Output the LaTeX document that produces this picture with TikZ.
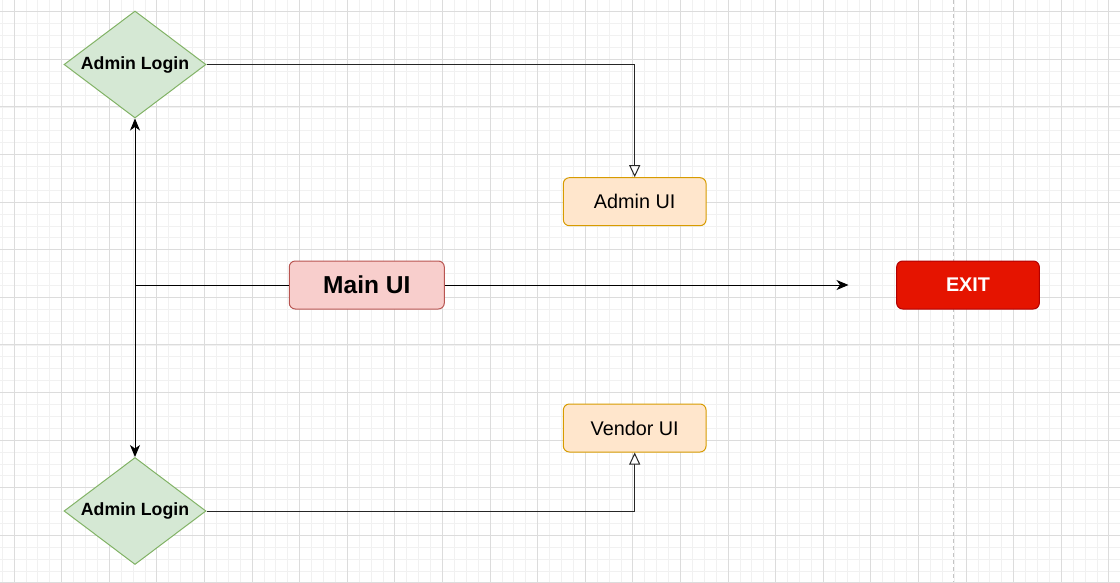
\documentclass[tikz,border=0pt]{standalone}
\usepackage{fontspec}
\setmainfont{Liberation Sans}
\usetikzlibrary{shapes.geometric,arrows.meta}
\definecolor{gridminor}{HTML}{F1F1F1}
\definecolor{gridmajor}{HTML}{DCDCDC}
\definecolor{dashgray}{HTML}{C4C4C4}
\definecolor{greenfill}{HTML}{D5E8D4}
\definecolor{greenline}{HTML}{82B366}
\definecolor{orangefill}{HTML}{FFE6CC}
\definecolor{orangeline}{HTML}{D79B00}
\definecolor{redfill}{HTML}{F8CECC}
\definecolor{redline}{HTML}{B85450}
\definecolor{exitfill}{HTML}{E51400}
\definecolor{exitline}{HTML}{B20000}
\tikzset{
  decision/.style={diamond, aspect=1.33, draw=greenline, fill=greenfill, line width=1pt,
    minimum width=142pt, minimum height=107pt, inner sep=0pt,
    font=\fontsize{17.7}{20}\selectfont\bfseries},
  uibox/.style={rectangle, rounded corners=6pt, draw=orangeline, fill=orangefill, line width=1pt,
    minimum width=142.7pt, minimum height=48pt, inner sep=0pt,
    font=\fontsize{19.8}{22}\selectfont},
  mainbox/.style={rectangle, rounded corners=6pt, draw=redline, fill=redfill, line width=1pt,
    minimum width=155pt, minimum height=48pt, inner sep=0pt,
    font=\fontsize{24.5}{27}\selectfont\bfseries},
  exitbox/.style={rectangle, rounded corners=6pt, draw=exitline, fill=exitfill, line width=1pt,
    minimum width=142.7pt, minimum height=48pt, inner sep=0pt, text=white,
    font=\fontsize{19.8}{22}\selectfont\bfseries},
  conn/.style={draw=black, line width=1pt, -{Stealth[length=12pt, width=10pt, inset=3.5pt]}},
  openconn/.style={draw=black!85, line width=1pt, -{Triangle[open, length=12pt, width=11pt, fill=white]}},
}
\begin{document}
\begin{tikzpicture}[x=1pt, y=-1pt]
\useasboundingbox (0,0) rectangle (1120,582);
\fill[white] (0,0) rectangle (1120,582);
% grid
\foreach \i in {-1,...,94} {
  \draw[gridminor, line width=0.8pt] ({14+11.9*\i},0) -- ({14+11.9*\i},582);
}
\foreach \i in {-1,...,49} {
  \draw[gridminor, line width=0.8pt] (0,{11.7+11.9*\i}) -- (1120,{11.7+11.9*\i});
}
\foreach \i in {0,...,23} {
  \draw[gridmajor, line width=0.9pt] ({14+47.6*\i},0) -- ({14+47.6*\i},582);
}
\foreach \i in {0,...,12} {
  \draw[gridmajor, line width=0.9pt] (0,{11.7+47.6*\i}) -- (1120,{11.7+47.6*\i});
}
% dashed divider
\draw[dashgray, line width=1.2pt, dash pattern=on 4pt off 3pt] (953.3,0) -- (953.3,582);

% nodes
\node[decision] (loginA) at (135,64.5) {Admin Login};
\node[decision] (loginB) at (135,511) {Admin Login};
\node[uibox] (adminui) at (634.7,201.7) {Admin UI};
\node[uibox] (vendorui) at (634.7,428) {Vendor UI};
\node[mainbox] (main) at (366.8,285) {Main UI};
\node[exitbox] (exit) at (968,285) {EXIT};
\coordinate (exitend) at (848.5,285);

% connectors
\draw[conn] (main.west) -| (loginA.south);
\draw[conn] (main.west) -| (loginB.north);
\draw[conn] (main.east) -- (exitend);
\draw[openconn] (loginA.east) -| (adminui.north);
\draw[openconn] (loginB.east) -| (vendorui.south);
\end{tikzpicture}
\end{document}
